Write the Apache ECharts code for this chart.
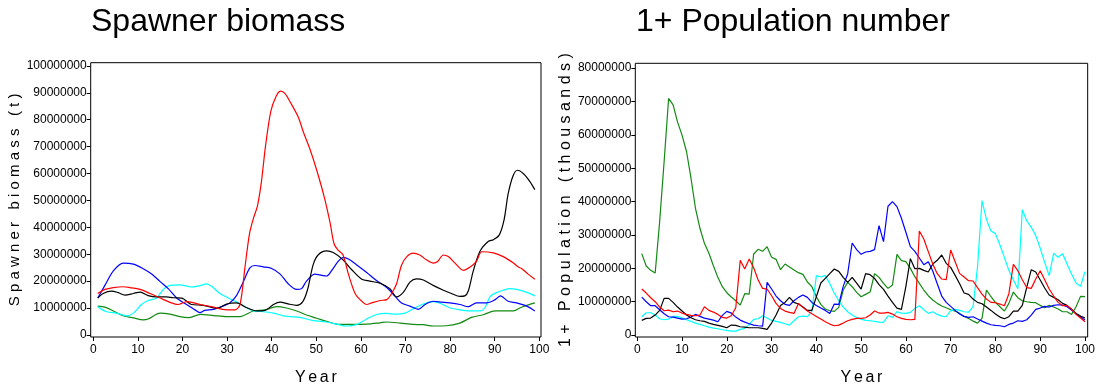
<!DOCTYPE html>
<html>
<head>
<meta charset="utf-8">
<script src="https://cdn.jsdelivr.net/npm/echarts@6/dist/echarts.min.js"></script>
<style>
  html, body { margin: 0; padding: 0; background: #ffffff; }
  #chart { width: 1098px; height: 391px; }
</style>
</head>
<body>
<div id="chart"></div>
<script>
// ---- Spawner biomass (millions of t), [year, value] readings along each smoothed curve ----
const sbRed = [[1,15.4],[2.6,16.9],[4.5,17.6],[6.7,17.9],[8.2,17.6],[10.5,16.9],[12.7,15.4],[15,13.7],[17.2,12.1],[19,11.3],[21,12.4],[24,11.3],[27,10.3],[29,9.5],[31.8,9.3],[32.9,11.3],[34,25],[35,37.4],[35.9,43.3],[36.8,47.9],[37.7,57],[38.6,70],[39.8,83.1],[41,88.7],[42,90.6],[43,89.7],[44.5,85.5],[46,80.8],[47.1,75.4],[48.6,68.9],[50.1,61.2],[51.9,50.5],[53.1,41.6],[54,33.8],[54.9,31.5],[56,29.7],[57.2,22.6],[58.7,15.4],[60.2,12.5],[61.3,11.3],[62.4,11.9],[64.3,12.8],[65.8,13.1],[66.9,15.4],[68,19],[69.1,25.9],[70.3,29.1],[71.7,30.4],[73.2,29.7],[74.7,27.9],[76.3,26.7],[77.2,27.3],[78.5,29.7],[79.6,29.1],[81.1,26.7],[83,24],[84.5,25.2],[85.9,27.3],[87.1,30.9],[89.7,30.5],[91.9,29.1],[94.2,26.7],[95.3,25.2],[96,24.7],[97.5,22.6],[99,20.7]];
const sbBlack = [[1,13.7],[2.2,15.4],[4.1,16.3],[5.6,15.7],[7.1,14.8],[9,15.4],[10.5,15.9],[12.3,14.6],[14.2,14.1],[16.4,14.1],[17.9,13.8],[19.8,13.7],[22,11.3],[24.7,11],[27.7,9.9],[29.9,11.5],[32.1,11.9],[34.4,10.1],[36.6,8.9],[38.5,9.1],[40.4,11.3],[41.9,12.2],[43.7,11.5],[45.6,11],[46.9,12.2],[48,16.6],[49.3,26.1],[50.4,29.7],[52.3,31.2],[53.8,30.6],[56,27.9],[57.9,24.3],[60.2,20.7],[62,20],[64.3,19.2],[66.5,17.2],[68,14.1],[69.5,15.8],[71,19.6],[72.5,20.8],[74,20.4],[76.2,18.4],[78.5,16.6],[80.3,15.4],[82.2,14.3],[83.3,14.5],[84.1,16.4],[85.2,23.8],[86.7,31.1],[88.6,34.8],[89.7,35.4],[91,37.1],[92.1,42.8],[93,52.3],[94.1,59.1],[95.1,61.2],[96.4,60],[97.9,57],[99,54]];
const sbBlue = [[1,13.7],[2.6,18.4],[4.5,23.8],[6.7,26.7],[9,26.3],[11.2,24.6],[13.1,22.6],[15,19.8],[16.8,17.2],[18.7,13.7],[20.9,11.3],[22.8,9.3],[23.9,8.3],[25,9.1],[26.9,9.5],[29.1,10.7],[30.6,11.9],[32.1,14.6],[33.6,19.6],[35.1,24.9],[36.2,25.8],[38.1,25.3],[40,24.7],[41.9,22.6],[43.7,19],[45.6,16.9],[46.7,17.2],[47.8,20],[49.7,22.6],[50.8,22.3],[52.3,21.9],[53.4,23.8],[54.9,27.3],[56,28.7],[57.2,28.2],[59,26.1],[61.3,23.2],[63.5,20.2],[65.8,17.6],[67.7,14.3],[69.1,11.9],[71,10.7],[72.9,9.5],[74.4,11.3],[76.2,12.5],[78.1,12.2],[79.9,11.9],[82.2,11.3],[84.1,10.5],[85.9,11.9],[88.2,11.9],[90.1,13.1],[91.3,14.5],[93,12.5],[94.9,11.9],[97.2,10.7],[99,8.9]];
const sbCyan = [[1,10.5],[3,8.6],[5.2,8.1],[7.5,7.1],[9,8.1],[10.8,11.3],[12.3,12.8],[14.2,13.7],[15.7,16.9],[17.2,18.4],[19.4,18.6],[22,17.8],[23.9,18.3],[25.4,19],[26.5,18.1],[28.4,15.4],[30.3,13.7],[32.5,11.9],[34.4,10.1],[35.9,8.9],[37.7,8.7],[40.4,8.1],[42.6,7.1],[44.1,6.8],[46.3,6.5],[49.3,5.3],[52.3,4.8],[54.6,4],[56.8,3.3],[59,3.8],[61.3,5.9],[63.5,7.6],[65.8,8],[68,7.7],[69.9,8.1],[71.7,9.7],[74,11.5],[76.2,12.4],[78.1,11.5],[79.9,10.1],[82.2,9.3],[84.5,8.9],[86.7,8.9],[87.8,10.1],[89,14.3],[90.4,15.7],[91.9,16.6],[93.4,17.2],[94.9,16.9],[97.2,15.8],[99,14.5]];
const sbGreen = [[1,10.7],[2.6,10.3],[4.5,8.9],[6.7,7.1],[9,6.3],[11.2,5.6],[12.3,5.9],[15,8.1],[17.2,7.7],[19.4,6.8],[21.3,6.4],[24,7.6],[27,7.2],[29.9,6.8],[32.9,6.8],[35.9,8.9],[38.5,9.3],[41.1,10.5],[43.3,10],[45.6,8.9],[47.8,7.4],[50.1,6.2],[52.3,5],[55.3,3.9],[58.3,3.9],[61.3,4],[64.3,4.5],[65.8,4.8],[68.8,4.4],[71.7,3.9],[74,3.8],[76.2,3.3],[79.1,3.4],[82.2,4.4],[84.8,6.5],[87.4,7.5],[90.1,8.9],[91.9,8.9],[94.2,8.9],[96,10.3],[99,11.9]];

// ---- 1+ population number (millions), one value per year 1..100 ----
const popYears = Array.from({ length: 100 }, (_, i) => i + 1);
const popRed = [13.8,12.6,11.2,10,8.4,7.3,7.5,7,7.2,6.6,
  6.2,5.9,5.8,6,8.5,7.4,6.9,6.2,5.3,5.1,
  5.8,8.2,22.4,19.8,22.8,20.2,16.5,14,13.8,11.8,
  9.5,8,7.2,6.8,6.5,9.5,8.3,7.2,6.4,5.6,
  4.8,4,3.3,2.8,3,3.6,4.3,4.7,5,5,
  5.2,6,7.2,6.6,6.6,6.8,6.3,5.5,5,4.7,
  4.6,4.7,31.2,28.8,25,21.3,18.4,16.8,16.6,25.5,
  22,18.5,17.4,16.3,16.2,14.2,12.3,10.8,9.8,9.7,
  9.3,8.8,12.4,21.2,19.3,16.6,14.2,14,16.8,19.3,
  16.6,13.8,11.7,9.8,8.8,8.8,7.8,6.2,5.1,4];
const popBlue = [11.4,10,8.8,8.8,7.6,6.4,5.5,5.4,5.1,4.8,
  4.9,5.4,6.2,5.6,5.1,4.8,4.5,4,5.9,7.1,
  6.6,5.4,4.5,3.9,3.4,3,2.8,2.7,15.8,13.8,
  11.7,10.3,9.2,8.9,10.3,11.3,12,11.3,9.8,8.9,
  8.1,7.4,6.5,9.3,9.2,14.6,18.4,27.6,25.6,24.2,
  24.9,25.1,25.6,32.8,28,38.6,40,38.5,35,30.8,
  26.5,25.1,23.1,21.1,22,19.2,15.4,11.7,9.8,8.6,
  7.4,6.3,5.6,5.3,5.5,4.8,4.2,3.6,3.1,2.9,
  2.8,2.5,3.2,3.6,4.3,4.1,4.6,6,7.7,8.1,
  8.6,8.4,8.9,9.1,9,8.5,7.5,6.4,5.5,4.5];
const popBlack = [4.4,5,5.1,6,7.4,11,11,9.8,8.4,7.2,
  6,5.2,4.6,4.3,4.1,3.6,3.2,2.9,2.6,2.2,
  3,2.9,2.5,2.4,2.2,2.2,2.2,2,1.7,3.6,
  6,8.9,9.8,11.3,9.8,9.3,8.4,7.4,7.4,11.5,
  15.6,17,18.4,19.8,19.1,17.3,15.8,17.3,15.6,13.8,
  18.4,18.1,17,15.1,13.7,11.7,9.8,8.1,7.7,14.6,
  22.9,19.9,20,19.4,18.9,21.3,22.4,24,21.5,20.3,
  17.9,15.4,12.6,12.2,10.8,9.8,9.4,8.4,7.4,6.3,
  5.4,4.9,5.5,7.2,7.2,8.9,14.4,19.6,18.9,16.5,
  14.1,12,11.3,10.6,9.5,8.9,7.7,6.5,5.7,5.1];
const popCyan = [5.5,6.7,6.7,6,4.9,4.6,4.8,5.6,5.6,5.1,
  4.6,4.1,3.6,3.2,2.8,2.4,2.1,1.9,1.6,1.4,
  1.2,1.2,1.7,2,3.2,4.7,4.9,5.8,5.1,4.4,
  4.1,3.8,3.4,3,4.3,5.5,5.7,5.5,7.2,17.8,
  17.4,17.9,15.4,12.6,10.3,8.4,7,6,5.3,4.8,
  4.4,4.3,4.1,3.9,3.8,5.8,5.3,7,6.6,6.5,
  6.8,8,8.8,7.6,6.5,7,6.2,5.7,5.5,7.3,
  7.7,7.4,7,6.9,8.5,20.5,40.3,34.6,31.2,30.4,
  27,23.2,19.4,16.5,13.9,37.6,34.2,32.3,29.8,26,
  21.8,17.8,24.5,23.3,24.4,21.2,18.3,15.6,14.6,19];
const popGreen = [24.4,20.7,19.4,18.6,34,52,70.9,69,63.8,59.9,
  55,47,38,32,27.5,24.5,20.8,17.3,14.5,12.7,
  11.4,10.3,9,12.4,12.3,24.3,25.7,25.1,26.5,23.3,
  22.7,19.6,21.3,20.4,19.5,18.7,18.2,15.9,14.5,11.5,
  9.2,7.8,7.3,7.1,8.3,13.5,15.8,14.5,12.8,11.5,
  12.2,12.9,18.4,17.3,15.5,14,15,24.2,22.3,22,
  20,17.5,15.5,13.5,11.8,10.5,9.5,8.7,8.2,7.6,
  7.2,6.5,5.6,5,4.2,3.6,5,13.5,11.5,9.8,
  8.5,7.2,9.5,12.9,11.2,10.3,10,9.8,9.7,8.9,
  8.2,8.9,8.4,7.8,7,7,6.2,8.5,11.6,11.5];

// ---- tick positions ----
const yearTicks = [0, 10, 20, 30, 40, 50, 60, 70, 80, 90, 100];
const biomassTicks = [0, 10, 20, 30, 40, 50, 60, 70, 80, 90, 100];   // millions
const popTicks = [0, 10, 20, 30, 40, 50, 60, 70, 80];                // millions

const COLORS = { red: '#ff0000', black: '#000000', blue: '#0000ff', cyan: '#00ffff', green: '#138a13' };
const TICK_FONT = 'Liberation Sans, Arial, sans-serif';
const HS = '\u200A';   // hair space used to open up the axis titles

function xAxisDef(gridIndex, min, max) {
  return {
    gridIndex, type: 'value', min, max,
    axisLine: { show: false, onZero: false },
    axisTick: { show: true, customValues: yearTicks, length: 4, lineStyle: { color: '#000', width: 1 } },
    axisLabel: { customValues: yearTicks, margin: 7, color: '#000', fontSize: 12, fontFamily: TICK_FONT },
    splitLine: { show: false },
    name: ['Y', 'e', 'a', 'r'].join(HS + HS), nameLocation: 'middle', nameGap: 33,
    nameTextStyle: { color: '#000', fontSize: 16, fontFamily: TICK_FONT }
  };
}
function yAxisDef(gridIndex, min, max, ticks, name, gap, size) {
  return {
    gridIndex, type: 'value', min, max,
    axisLine: { show: false, onZero: false },
    axisTick: { show: true, customValues: ticks, length: 4, lineStyle: { color: '#000', width: 1 } },
    axisLabel: {
      customValues: ticks, margin: 4, color: '#000', fontSize: 12, fontFamily: TICK_FONT,
      formatter: v => String(Math.round(v * 1e6))
    },
    splitLine: { show: false },
    name, nameLocation: 'middle', nameGap: gap, nameRotate: 90,
    nameTextStyle: { color: '#000', fontSize: size, fontFamily: TICK_FONT }
  };
}
function lineSeries(axis, color, data, smooth) {
  return {
    type: 'line', xAxisIndex: axis, yAxisIndex: axis, data,
    smooth: smooth ? 0.3 : false, symbol: 'none', showSymbol: false,
    lineStyle: { color, width: 1.2 }, itemStyle: { color },
    silent: true, animation: false
  };
}

const titleStyle = { fontSize: 32, fontWeight: 'normal', color: '#000', fontFamily: 'Liberation Sans, Arial, sans-serif' };

const chart = echarts.init(document.getElementById('chart'), null, { renderer: 'canvas' });
chart.setOption({
  backgroundColor: '#ffffff',
  animation: false,
  title: [
    { text: 'Spawner biomass', left: 91, top: 6, padding: 0, textStyle: titleStyle },
    { text: '1+ Population number', left: 636, top: 6, padding: 0, textStyle: titleStyle }
  ],
  grid: [
    { left: 90.7, right: 557, top: 62.7, bottom: 42.3, show: true, borderColor: '#000', borderWidth: 1, backgroundColor: 'transparent' },
    { left: 635.3, right: 5, top: 63.3, bottom: 41.7, show: true, borderColor: '#000', borderWidth: 1, backgroundColor: 'transparent' }
  ],
  xAxis: [ xAxisDef(0, -0.58, 100.38), xAxisDef(1, -0.44, 100.6) ],
  yAxis: [
    yAxisDef(0, -0.78, 101.18, biomassTicks, 'S p a w n e r   b i o m a s s   ( t )', 63, 15),
    yAxisDef(1, -0.57, 81.43, popTicks, '1 +   P o p u l a t i o n   ( t h o u s a n d s )', 55, 16)
  ],
  series: [
    lineSeries(0, COLORS.green, sbGreen, true),
    lineSeries(0, COLORS.cyan, sbCyan, true),
    lineSeries(0, COLORS.blue, sbBlue, true),
    lineSeries(0, COLORS.black, sbBlack, true),
    lineSeries(0, COLORS.red, sbRed, true),
    lineSeries(1, COLORS.green, popYears.map((y, i) => [y, popGreen[i]]), false),
    lineSeries(1, COLORS.cyan, popYears.map((y, i) => [y, popCyan[i]]), false),
    lineSeries(1, COLORS.blue, popYears.map((y, i) => [y, popBlue[i]]), false),
    lineSeries(1, COLORS.black, popYears.map((y, i) => [y, popBlack[i]]), false),
    lineSeries(1, COLORS.red, popYears.map((y, i) => [y, popRed[i]]), false)
  ]
});
</script>
</body>
</html>
